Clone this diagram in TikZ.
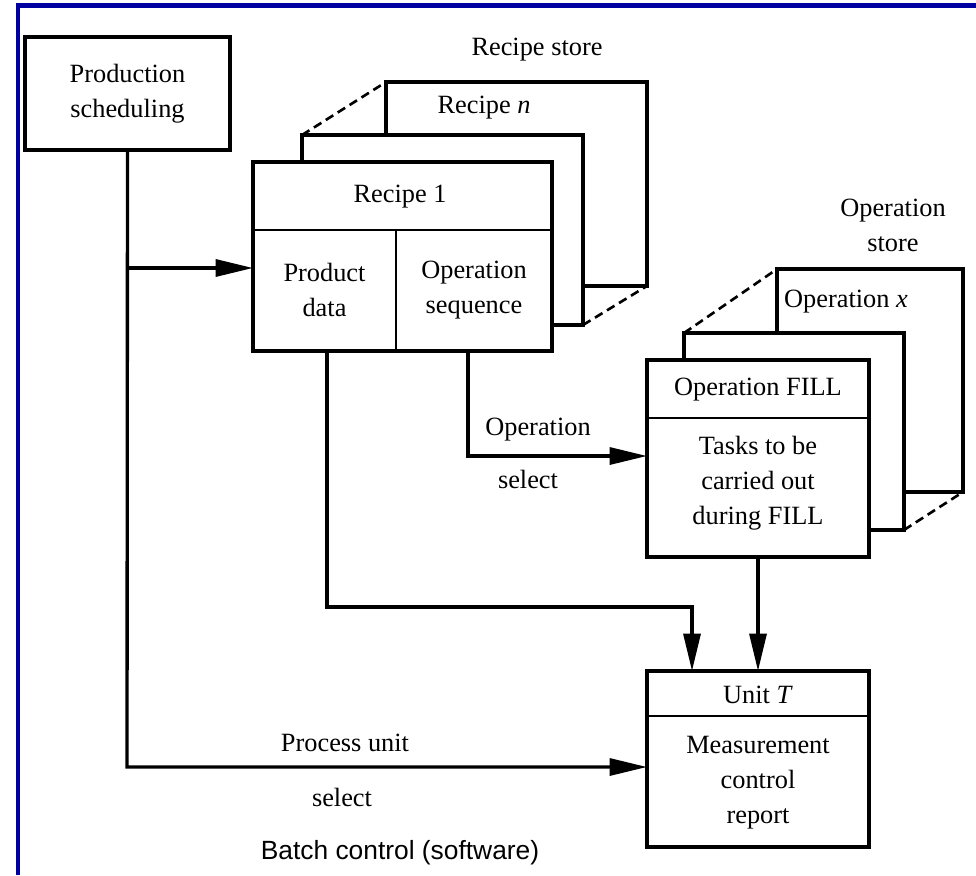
\documentclass[tikz,border=0pt]{standalone}
\usepackage{fontspec}
\setmainfont{Liberation Serif}
\newfontfamily\capsans{Liberation Sans}
\usepackage{tikz}
\usetikzlibrary{arrows.meta}
\usetikzlibrary{calc}
\definecolor{framenavy}{RGB}{0,0,160}

\begin{document}
\begin{tikzpicture}[x=0.02cm, y=-0.02cm,
    box/.style={draw, fill=white, line width=1.9pt, inner sep=0pt, outer sep=0pt},
    divider/.style={line width=1.6pt},
    link/.style={line width=1.9pt},
    arr/.style={link, -{Triangle[length=0.75cm, width=0.34cm]}},
    stack/.style={line width=1.5pt, dash pattern=on 5pt off 3pt},
    txt/.style={font=\fontsize{15}{19.9}\selectfont, align=center, inner sep=0pt},
  ]
  \useasboundingbox (0,0) rectangle (976,875);
  \fill[framenavy] (16,3) rectangle (976,8);
  \fill[framenavy] (16,3) rectangle (20,875);

  % scheduling
  \node[box, minimum width=4.1cm, minimum height=2.26cm] (prod) at (127.5,93.5) {};
  \node[txt] (prodtxt) at (prod) {Production\\scheduling};

  % recipe store
  \node[txt] (recstore) at (537,50) {Recipe store};
  \node[box, minimum width=5.22cm, minimum height=4.08cm] (recn) at (516.5,184) {};
  \node[box, minimum width=5.62cm, minimum height=3.8cm] (recm) at (442.5,230) {};
  \node[box, minimum width=5.98cm, minimum height=3.78cm] (rec1) at (402.5,256.5) {};
  \draw[stack] (recm.north west) -- (recn.north west);
  \draw[stack] (recm.south east) -- (recn.south east);
  \draw[divider] ($(rec1.north west)+(0,68)$) -- ($(rec1.north east)+(0,68)$);
  \draw[divider] ($(rec1.north west)+(143,68)$) -- ($(rec1.south west)+(143,0)$);
  \node[txt] (recntxt) at (484,108) {Recipe \textit{n}};
  \node[txt] (rec1txt) at (400,197) {Recipe 1};
  \node[txt] (pdata) at (324.5,290) {Product\\data};
  \node[txt] (opseq) at (474,290) {Operation\\sequence};

  % operation store
  \node[txt] (opstore) at (893,225) {Operation\\store};
  \node[box, minimum width=3.72cm, minimum height=4.46cm] (opx) at (870,380.5) {};
  \node[box, minimum width=4.4cm, minimum height=3.94cm] (opm) at (794,431.5) {};
  \node[box, minimum width=4.44cm, minimum height=3.94cm] (opfill) at (758,458.5) {};
  \draw[stack] (opm.north west) -- (opx.north west);
  \draw[stack] (opm.south east) -- (opx.south east);
  \draw[divider] ($(opfill.north west)+(0,58)$) -- ($(opfill.north east)+(0,58)$);
  \node[txt] (opxtxt) at (846,302) {Operation \textit{x}};
  \node[txt] (filltxt) at (758,390) {Operation FILL};
  \node[txt] (tasks) at (758,483) {Tasks to be\\carried out\\during FILL};

  % unit
  \node[box, minimum width=4.44cm, minimum height=3.52cm] (unit) at (758,759) {};
  \draw[divider] ($(unit.north west)+(0,45)$) -- ($(unit.north east)+(0,45)$);
  \node[txt] (unittxt) at (758,695) {Unit \textit{T}};
  \node[txt] (mcr) at (758,783) {Measurement\\control\\report};

  % connectors
  \coordinate (tee) at (127,268);
  \coordinate (psbend) at (127,767);
  \coordinate (pdbend) at (327,607);
  \coordinate (pdin) at (692,607);
  \coordinate (osbend) at (468,456);
  \draw[arr] (prod.south) -- (psbend) -- (psbend -| unit.west);
  \draw[arr] (tee) -- (tee -| rec1.west);
  \draw[arr] (pdbend |- rec1.south) -- (pdbend) -- (pdin) -- (pdin |- unit.north);
  \draw[arr] (opfill.south) -- (unit.north);
  \draw[arr] (osbend |- rec1.south) -- (osbend) -- (osbend -| opfill.west);

  \node[txt] (opsel1) at (538,430) {Operation};
  \node[txt] (opsel2) at (528,479) {select};
  \node[txt] (pusel1) at (345,743) {Process unit};
  \node[txt] (pusel2) at (342,797) {select};
  \node[txt, font=\capsans\fontsize{15}{18}\selectfont] (caption) at (400,853) {Batch control (software)};
\end{tikzpicture}
\end{document}
